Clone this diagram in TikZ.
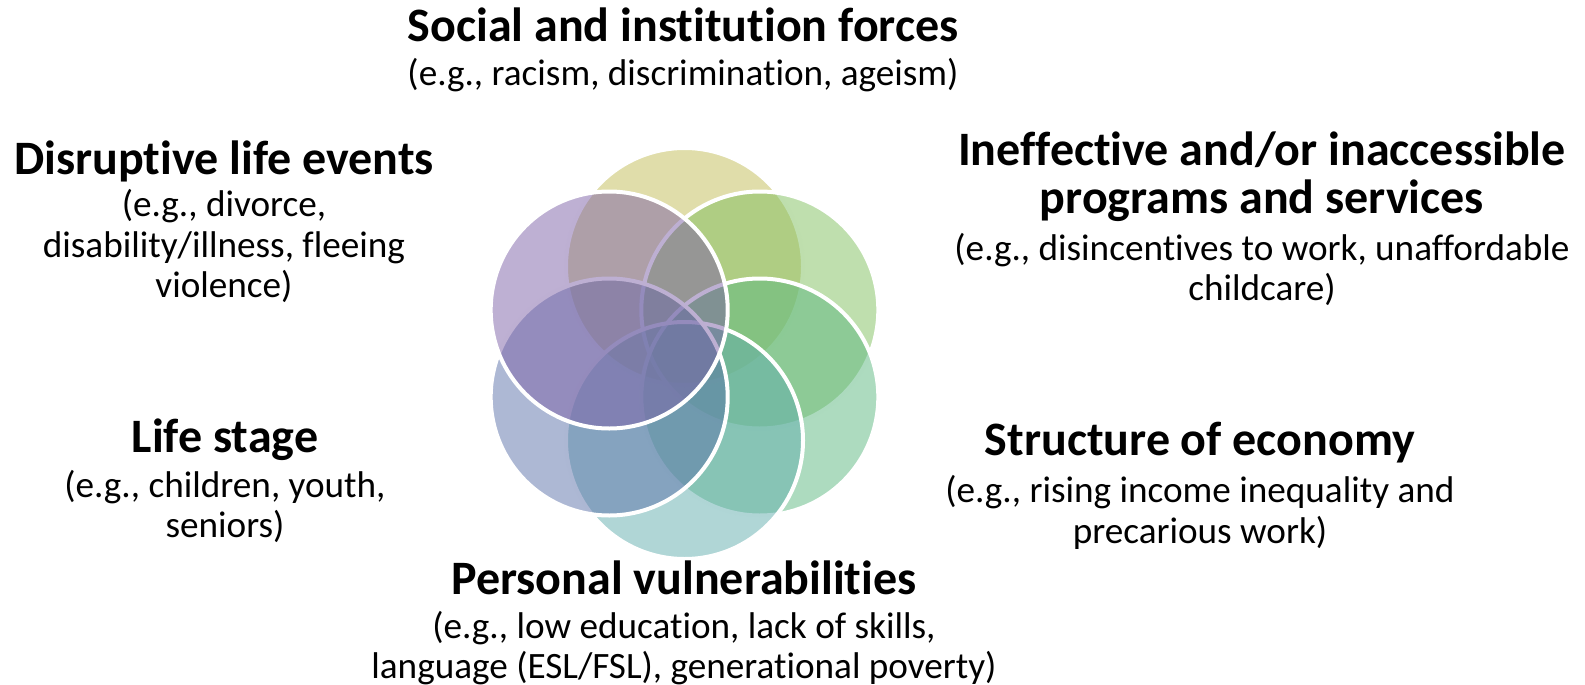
\documentclass[tikz,border=0pt]{standalone}
\usepackage{fontspec}
\setmainfont{Carlito}[Ligatures={NoCommon}]
\definecolor{cYel}{RGB}{193,187,85}
\definecolor{cGrA}{RGB}{127,191,93}
\definecolor{cGrB}{RGB}{91,183,127}
\definecolor{cTeal}{RGB}{97,173,173}
\definecolor{cBlue}{RGB}{91,113,169}
\definecolor{cPurp}{RGB}{125,97,167}
\begin{document}
\begin{tikzpicture}[x=1pt,y=-1pt,
  ring/.style={draw=white, line width=4pt, fill opacity=0.5},
  ttl/.style={font=\fontsize{48}{56}\selectfont\bfseries, anchor=base, inner sep=0pt, text=black},
  dsc/.style={font=\fontsize{37.2}{44}\selectfont, anchor=base, inner sep=0pt, text=black}]
\useasboundingbox (0,0) rectangle (1585,685);
% circles, drawn in order
\path[ring, fill=cYel]  (684.5,266.5) circle[radius=118.5pt];
\path[ring, fill=cGrA]  (759.8,310.0) circle[radius=118.5pt];
\path[ring, fill=cGrB]  (759.8,397.0) circle[radius=118.5pt];
\path[ring, fill=cTeal] (684.5,440.5) circle[radius=118.5pt];
\path[ring, fill=cBlue] (609.2,397.0) circle[radius=118.5pt];
\path[ring, fill=cPurp] (609.2,310.0) circle[radius=118.5pt];
% top
\node[ttl] (soc1) at (683,42) {Social and institution forces};
\node[dsc] (soc2) at (683,85) {(e.g., racism, discrimination, ageism)};
% disruptive
\node[ttl] (dis1) at (224,174) {Disruptive life events};
\node[dsc] (dis2) at (224,216) {(e.g., divorce,};
\node[dsc] (dis3) at (224,257) {disability/illness, fleeing};
\node[dsc] (dis4) at (224,297) {violence)};
% ineffective
\node[ttl] (ine1) at (1262,165) {Ineffective and/or inaccessible};
\node[ttl] (ine2) at (1262,213) {programs and services};
\node[dsc] (ine3) at (1262,260) {(e.g., disincentives to work, unaffordable};
\node[dsc] (ine4) at (1262,300) {childcare)};
% life stage
\node[ttl] (lif1) at (225,452) {Life stage};
\node[dsc] (lif2) at (225,497) {(e.g., children, youth,};
\node[dsc] (lif3) at (225,537) {seniors)};
% structure
\node[ttl] (str1) at (1200,455) {Structure of economy};
\node[dsc] (str2) at (1200,502) {(e.g., rising income inequality and};
\node[dsc] (str3) at (1200,543) {precarious work)};
% personal
\node[ttl] (per1) at (684,594) {Personal vulnerabilities};
\node[dsc] (per2) at (684,638) {(e.g., low education, lack of skills,};
\node[dsc] (per3) at (684,678) {language (ESL/FSL), generational poverty)};
\end{tikzpicture}
\end{document}
